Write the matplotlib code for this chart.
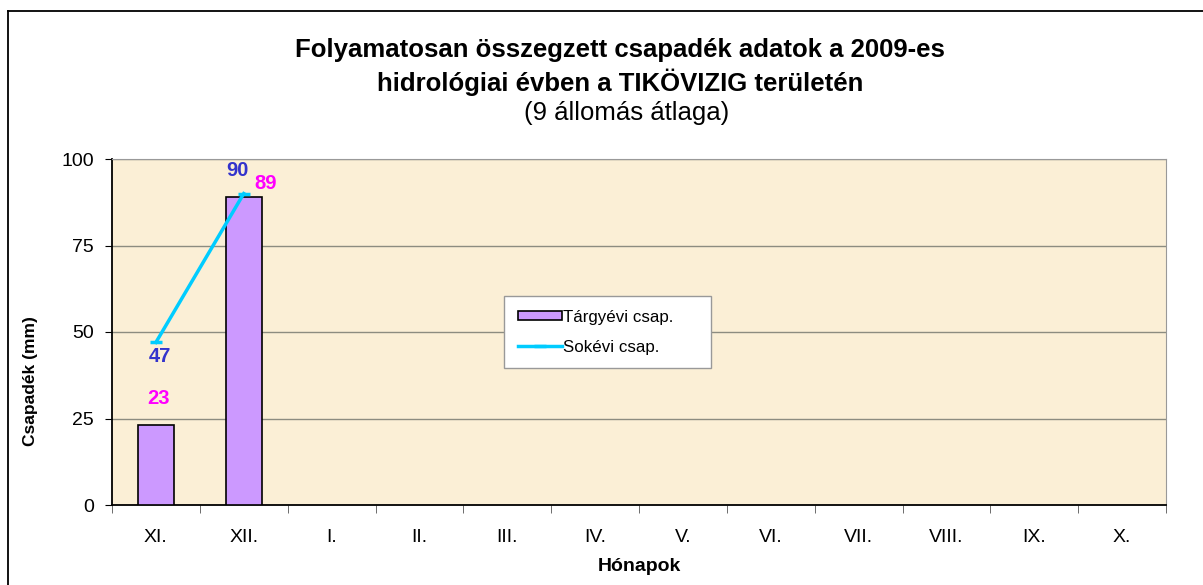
import matplotlib
matplotlib.use("Agg")
import matplotlib.pyplot as plt
from matplotlib.lines import Line2D
import numpy as np

plt.rcParams['font.family'] = ['Liberation Sans', 'DejaVu Sans']

months = ["XI.", "XII.", "I.", "II.", "III.", "IV.", "V.", "VI.", "VII.", "VIII.", "IX.", "X."]
targyevi = [23, 89]
sokevi = [47, 90]
yticks = [0, 25, 50, 75, 100]

W, H = 1203, 585
fig = plt.figure(figsize=(W/100, H/100), dpi=100)
ax = fig.add_axes([112/W, 1-505/H, (1166-112)/W, (505-159)/H])
ax.set_facecolor('#FBEFD6')

x = np.arange(len(months))
xb = np.arange(len(targyevi))
xl = np.arange(len(sokevi))
hb = ax.bar(xb, targyevi, width=0.41, color='#CC99FF', edgecolor='black', linewidth=1.2, zorder=3,
            label='Tárgyévi csap.')
hl, = ax.plot(xl, sokevi, color='#00CCFF', linewidth=2.5, marker='_', markersize=8, markeredgewidth=2.5,
              zorder=4, label='Sokévi csap.')

bar_offsets = [(3, 27), (22, 14)]
line_offsets = [(4, -14), (-6, 23)]
for xi, v, off in zip(xb, targyevi, bar_offsets):
    ax.annotate(str(v), (xi, v), xytext=off, textcoords='offset pixels', ha='center', va='center',
                color='#FF00FF', fontsize=14.5, fontweight='bold', zorder=5)
for xi, v, off in zip(xl, sokevi, line_offsets):
    ax.annotate(str(v), (xi, v), xytext=off, textcoords='offset pixels', ha='center', va='center',
                color='#3333CC', fontsize=14.5, fontweight='bold', zorder=5)

ax.set_xlim(-0.5, len(months) - 0.5)
ax.set_ylim(0, 100)
ax.set_yticks(yticks)
ax.set_yticklabels([str(t) for t in yticks], fontsize=14)
ax.set_xticks(x)
ax.set_xticklabels(months, fontsize=14)
ax.set_xticks(np.arange(len(months) + 1) - 0.5, minor=True)
ax.tick_params(axis='x', which='major', length=0, pad=17)
ax.tick_params(axis='x', which='minor', length=6, color='#555555', direction='out')
ax.tick_params(axis='y', length=5, direction='out', pad=8)
for t in yticks[1:]:
    ax.axhline(t, color='#8C8C80', linewidth=1.0, zorder=1)
ax.spines['left'].set_color('black')
ax.spines['bottom'].set_color('black')
ax.spines['left'].set_linewidth(1.3)
ax.spines['bottom'].set_linewidth(1.3)
ax.spines['top'].set_color('#999999')
ax.spines['right'].set_color('#999999')

ax.set_ylabel('Csapadék (mm)', fontsize=12.5, fontweight='bold')
ax.yaxis.set_label_coords(-74/(1166-112), (505-381)/(505-159))
ax.set_xlabel('Hónapok', fontsize=14, fontweight='bold', labelpad=9)

tx = 620/W
fig.text(tx, 1-50/H, 'Folyamatosan összegzett csapadék adatok a 2009-es', ha='center', va='center',
         fontsize=18.5, fontweight='bold')
fig.text(tx, 1-82/H, 'hidrológiai évben a TIKÖVIZIG területén', ha='center', va='center',
         fontsize=18.5, fontweight='bold')
fig.text(627/W, 1-113/H, '(9 állomás átlaga)', ha='center', va='center', fontsize=18.5)

leg = ax.legend(handles=[hb, hl], labels=['Tárgyévi csap.     ', 'Sokévi csap.'], loc='upper left',
                bbox_to_anchor=((504-112)/(1166-112), 1-(296-159)/(505-159)),
                fontsize=12.2, frameon=True, fancybox=False, edgecolor='#999999', framealpha=1,
                handlelength=2.6, handleheight=0.5, handletextpad=0.1, borderpad=0.8, labelspacing=0.9,
                borderaxespad=0)
leg.get_frame().set_linewidth(1.0)

fig.add_artist(Line2D([8/W, 8/W], [0, 1-11/H], transform=fig.transFigure, color='black', linewidth=1.3))
fig.add_artist(Line2D([8/W, 1], [1-11/H, 1-11/H], transform=fig.transFigure, color='black', linewidth=1.3))

fig.savefig('out.png', dpi=100)
